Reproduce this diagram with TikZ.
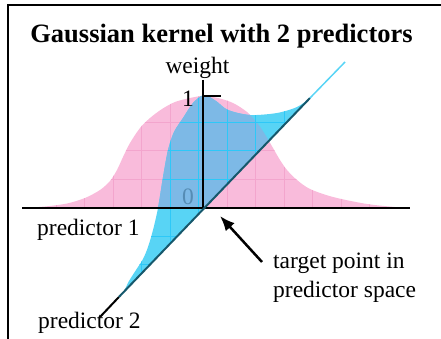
\documentclass[tikz,border=0pt]{standalone}
\usepackage{fontspec}
\setmainfont{Liberation Serif}
\usepackage{xcolor}
\usepackage{tikz}
\usetikzlibrary{arrows.meta,positioning}
\definecolor{rosaclaro}{RGB}{249,187,219}
\definecolor{rosagrade}{RGB}{243,165,205}
\definecolor{ciano}{RGB}{88,212,245}
\definecolor{cianoforte}{RGB}{45,200,248}
\definecolor{azulmedio}{RGB}{125,185,230}
\definecolor{azulcinza}{RGB}{85,140,180}
\definecolor{azulescuro}{RGB}{22,88,108}
\tikzset{
  eixo/.style={line width=2pt,black},
  grade/.style={line width=0.7pt},
  seta/.style={-{Latex[length=15pt,width=12pt]},line width=2.5pt,black}
}

\begin{document}
\begin{tikzpicture}[x=1pt,y=-1pt,
  rotulo/.style={inner sep=0pt,font=\fontsize{23.5}{27}\selectfont}]
\useasboundingbox (0,0) rectangle (441,339);
\coordinate (O) at (203,208);
\coordinate (inix) at (22,208);
\coordinate (fimx) at (410,208);
\coordinate (topoy) at (203,80);
\coordinate (marca) at (221,96);
\coordinate (marcaini) at (203,96);
\coordinate (diagini) at (100,317);
\coordinate (azulini) at (118.9,297);
\coordinate (diagfim) at (310,98);
\coordinate (diagext) at (345,62);
\coordinate (setaini) at (262,262);
\coordinate (setafim) at (220,216);
\path[fill=rosaclaro,save path=\rosa] plot[smooth] coordinates {(22,208) (45,206.5) (67,203.5)
  (85,198) (100,190) (110,181) (117,170) (123,157) (130,143) (140,128) (150,118) (162,109)
  (175,102) (190,98) (203,96) (218,98) (233,103) (247,112) (258,124) (266,136) (273,148)
  (280,160) (287,170) (297,180) (310,189) (333,197) (367,204) (400,207.5) (405,208)} -- cycle;
\begin{scope}
  \clip[use path=\rosa];
  \foreach \gx in {27.5,56,...,400} \draw[grade,rosagrade] (\gx,80) -- (\gx,212);
  \foreach \gy in {93.5,122,...,208} \draw[grade,rosagrade] (20,\gy) -- (410,\gy);
\end{scope}
\path[fill=ciano,save path=\azul] plot[smooth] coordinates {(azulini) (124,291) (129,281)
  (136,270) (143,259) (148,247) (153,230) (158,208) (163,177) (168,150) (174,132) (183,118)
  (193,103) (204,95) (216,101) (228,110) (250,115) (277,113) (297,107) (diagfim)} -- (O) -- cycle;
\begin{scope}
  \clip[use path=\rosa];
  \fill[azulmedio,use path=\azul];
\end{scope}
\begin{scope}
  \clip[use path=\azul];
  \foreach \gx in {27.5,56,...,400} \draw[grade,cianoforte] (\gx,80) -- (\gx,320);
  \foreach \gy in {93.5,122,...,320} \draw[grade,cianoforte] (20,\gy) -- (410,\gy);
\end{scope}
\node[rotulo,anchor=base,text=azulcinza] (zero) at (188,204) {0};
\draw[eixo] (inix) -- (fimx);
\draw[eixo] (topoy) -- (O);
\draw[eixo] (marcaini) -- (marca);
\draw[eixo] (diagini) -- (azulini);
\draw[eixo,azulescuro] (azulini) -- (diagfim);
\draw[line width=1.5pt,ciano] (diagfim) -- (diagext);
\draw[line width=2pt] (8,339) -- (8,5) -- (441,5);
\node[anchor=base,inner sep=0pt,font=\fontsize{26.5}{30}\selectfont\bfseries] (titulo)
  at (221.5,43) {Gaussian kernel with 2 predictors};
\node[rotulo,anchor=base] (peso) at (197.5,74) {weight};
\node[rotulo,anchor=base] (um) at (188,107) {1};
\node[rotulo,anchor=base west] (pred1) at (37,235) {predictor 1};
\node[rotulo,anchor=base west] (pred2) at (38,328) {predictor 2};
\node[rotulo,anchor=base west] (alvo1) at (273,268) {target point in};
\node[rotulo,anchor=base west] (alvo2) at ([yshift=-29pt]alvo1.base west) {predictor space};
\draw[seta] (setaini) -- (setafim);
\end{tikzpicture}
\end{document}
